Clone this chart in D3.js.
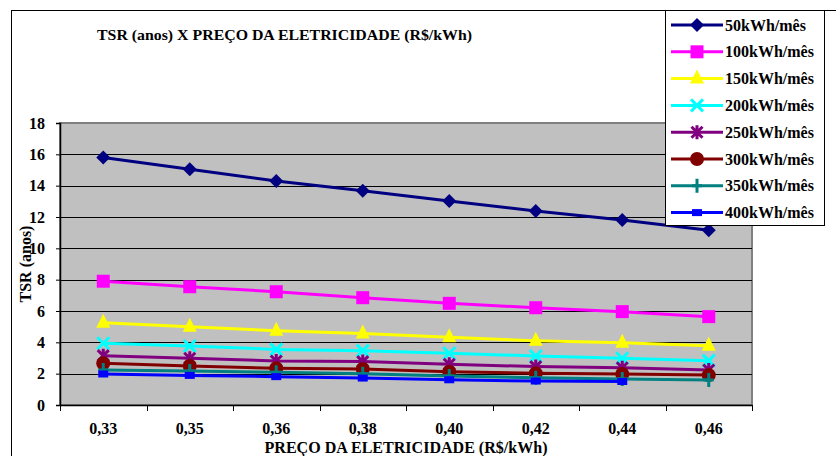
<!DOCTYPE html>
<html>
<head>
<meta charset="utf-8">
<script src="https://cdn.jsdelivr.net/npm/d3@7"></script>
<style>
  html, body { margin: 0; padding: 0; background: #fff; }
  svg { display: block; }
  text { font-family: "Liberation Serif", "Times New Roman", serif; font-weight: bold; fill: #000; }
</style>
</head>
<body>
<svg id="chart" width="836" height="456"></svg>
<script>
// Preço da eletricidade (R$/kWh)
const precos = ["0,33", "0,35", "0,36", "0,38", "0,40", "0,42", "0,44", "0,46"];

// Tempo simples de retorno (anos) por consumo mensal
const tsr50  = [15.8, 15.05, 14.3, 13.68, 13.02, 12.38, 11.81, 11.15];
const tsr100 = [7.9, 7.55, 7.23, 6.85, 6.49, 6.21, 5.96, 5.64];
const tsr150 = [5.25, 5.0, 4.74, 4.57, 4.32, 4.1, 3.98, 3.78];
const tsr200 = [3.94, 3.77, 3.55, 3.47, 3.3, 3.13, 2.98, 2.83];
const tsr250 = [3.15, 2.98, 2.81, 2.77, 2.6, 2.45, 2.38, 2.23];
const tsr300 = [2.66, 2.49, 2.34, 2.3, 2.13, 2.02, 1.98, 1.91];
const tsr350 = [2.23, 2.17, 2.09, 2.0, 1.85, 1.74, 1.66, 1.6];
const tsr400 = [1.98, 1.89, 1.81, 1.72, 1.61, 1.53, 1.5];

const yTicks = [0, 2, 4, 6, 8, 10, 12, 14, 16, 18];

const series = [
  { nome: "50kWh/mês",  valores: tsr50,  cor: "#000080", marca: "diamond" },
  { nome: "100kWh/mês", valores: tsr100, cor: "#FF00FF", marca: "square" },
  { nome: "150kWh/mês", valores: tsr150, cor: "#FFFF00", marca: "triangle" },
  { nome: "200kWh/mês", valores: tsr200, cor: "#00FFFF", marca: "x" },
  { nome: "250kWh/mês", valores: tsr250, cor: "#800080", marca: "star" },
  { nome: "300kWh/mês", valores: tsr300, cor: "#800000", marca: "circle" },
  { nome: "350kWh/mês", valores: tsr350, cor: "#008080", marca: "plus" },
  { nome: "400kWh/mês", valores: tsr400, cor: "#0000FF", marca: "dash" }
];

const svg = d3.select("#chart");
const plot = { left: 60, top: 123, right: 752, bottom: 405 };

// Outer chart frame
svg.append("rect")
  .attr("x", 11.5).attr("y", 10.5)
  .attr("width", 900).attr("height", 500)
  .attr("fill", "#fff").attr("stroke", "#000").attr("stroke-width", 1);

const x = d3.scaleBand().domain(precos).range([plot.left, plot.right]);
const y = d3.scaleLinear().domain([0, 18]).range([plot.bottom, plot.top]);

// Plot area background
svg.append("rect")
  .attr("x", plot.left).attr("y", plot.top)
  .attr("width", plot.right - plot.left).attr("height", plot.bottom - plot.top)
  .attr("fill", "#C0C0C0").attr("stroke", "#808080").attr("stroke-width", 2);

// Horizontal gridlines
svg.append("g").selectAll("line")
  .data(yTicks.filter(d => d > 0 && d < 18))
  .join("line")
  .attr("x1", plot.left).attr("x2", plot.right)
  .attr("y1", d => Math.round(y(d)) + 0.5).attr("y2", d => Math.round(y(d)) + 0.5)
  .attr("stroke", "#000").attr("stroke-width", 1);

// Y axis
const yAxis = svg.append("g")
  .attr("transform", `translate(${plot.left},0)`)
  .call(d3.axisLeft(y).tickValues(yTicks).tickSize(4).tickPadding(11).tickFormat(d3.format("d")));
yAxis.select(".domain").attr("stroke", "#000").attr("stroke-width", 1.5);
yAxis.selectAll("text").style("font-size", "16px").style("font-family", "Liberation Serif").style("font-weight", "bold");

// X axis (ticks at category boundaries)
const xAxisG = svg.append("g").attr("transform", `translate(0,${plot.bottom})`);
xAxisG.call(d3.axisBottom(x).tickSize(0).tickPadding(18));
xAxisG.select(".domain").attr("stroke", "#000").attr("stroke-width", 1.5);
xAxisG.selectAll("text").style("font-size", "16px").style("font-family", "Liberation Serif").style("font-weight", "bold");
const fronteiras = precos.map(p => x(p)).concat([x(precos[precos.length - 1]) + x.bandwidth()]);
xAxisG.append("g").selectAll("line")
  .data(fronteiras)
  .join("line")
  .attr("x1", d => Math.round(d) + 0.5).attr("x2", d => Math.round(d) + 0.5)
  .attr("y1", 0).attr("y2", 6)
  .attr("stroke", "#000");

// Axis titles
svg.append("text")
  .attr("transform", `translate(31,264) rotate(-90)`)
  .attr("text-anchor", "middle")
  .style("font-size", "16px")
  .text("TSR (anos)");

svg.append("text")
  .attr("x", 406).attr("y", 453)
  .attr("text-anchor", "middle")
  .attr("textLength", 283).attr("lengthAdjust", "spacingAndGlyphs")
  .style("font-size", "16px")
  .text("PREÇO DA ELETRICIDADE (R$/kWh)");

// Chart title
svg.append("text")
  .attr("x", 97).attr("y", 40)
  .attr("textLength", 375).attr("lengthAdjust", "spacingAndGlyphs")
  .style("font-size", "15px")
  .text("TSR (anos) X PREÇO DA ELETRICIDADE (R$/kWh)");

// Marker drawing
function desenhaMarca(g, tipo, cor) {
  switch (tipo) {
    case "diamond":
      g.append("path").attr("d", "M0,-7L7,0L0,7L-7,0Z").attr("fill", cor);
      break;
    case "square":
      g.append("rect").attr("x", -6.5).attr("y", -6.5).attr("width", 13).attr("height", 13).attr("fill", cor);
      break;
    case "triangle":
      g.append("path").attr("d", "M0,-9L7,5L-7,5Z").attr("fill", cor);
      break;
    case "x":
      g.append("path").attr("d", "M-6,-6L6,6M6,-6L-6,6").attr("stroke", cor).attr("stroke-width", 3).attr("fill", "none");
      break;
    case "star":
      g.append("path").attr("d", "M-5.5,-5.5L5.5,5.5M5.5,-5.5L-5.5,5.5M0,-7L0,7").attr("stroke", cor).attr("stroke-width", 3).attr("fill", "none");
      break;
    case "circle":
      g.append("circle").attr("r", 7).attr("fill", cor);
      break;
    case "plus":
      g.append("path").attr("d", "M0,-7L0,7M-5,0L5,0").attr("stroke", cor).attr("stroke-width", 3).attr("fill", "none");
      break;
    case "dash":
      g.append("rect").attr("x", -5).attr("y", -3.5).attr("width", 10).attr("height", 7).attr("fill", cor);
      break;
  }
}

const linha = d3.line()
  .x((d, i) => x(precos[i]) + x.bandwidth() / 2)
  .y(d => y(d));

// Series lines and markers
series.forEach(s => {
  const g = svg.append("g");
  g.append("path")
    .datum(s.valores)
    .attr("d", linha)
    .attr("fill", "none")
    .attr("stroke", s.cor)
    .attr("stroke-width", 3);
  g.selectAll("g.marca")
    .data(s.valores)
    .join("g")
    .attr("class", "marca")
    .attr("transform", (d, i) => `translate(${x(precos[i]) + x.bandwidth() / 2},${y(d)})`)
    .each(function () { desenhaMarca(d3.select(this), s.marca, s.cor); });
});

// Legend
const leg = svg.append("g");
leg.append("rect")
  .attr("x", 665.5).attr("y", 10.5)
  .attr("width", 159).attr("height", 215)
  .attr("fill", "#fff").attr("stroke", "#000").attr("stroke-width", 1);
const itens = leg.selectAll("g.item")
  .data(series)
  .join("g")
  .attr("class", "item")
  .attr("transform", (d, i) => `translate(0,${25 + i * 26.8})`);
itens.append("line")
  .attr("x1", 671).attr("x2", 723)
  .attr("y1", 0).attr("y2", 0)
  .attr("stroke", d => d.cor).attr("stroke-width", 3);
itens.append("g")
  .attr("transform", "translate(697,0)")
  .each(function (d) { desenhaMarca(d3.select(this), d.marca, d.cor); });
itens.append("text")
  .attr("x", 725).attr("y", 5.5)
  .style("font-size", "16px")
  .text(d => d.nome);
</script>
</body>
</html>
